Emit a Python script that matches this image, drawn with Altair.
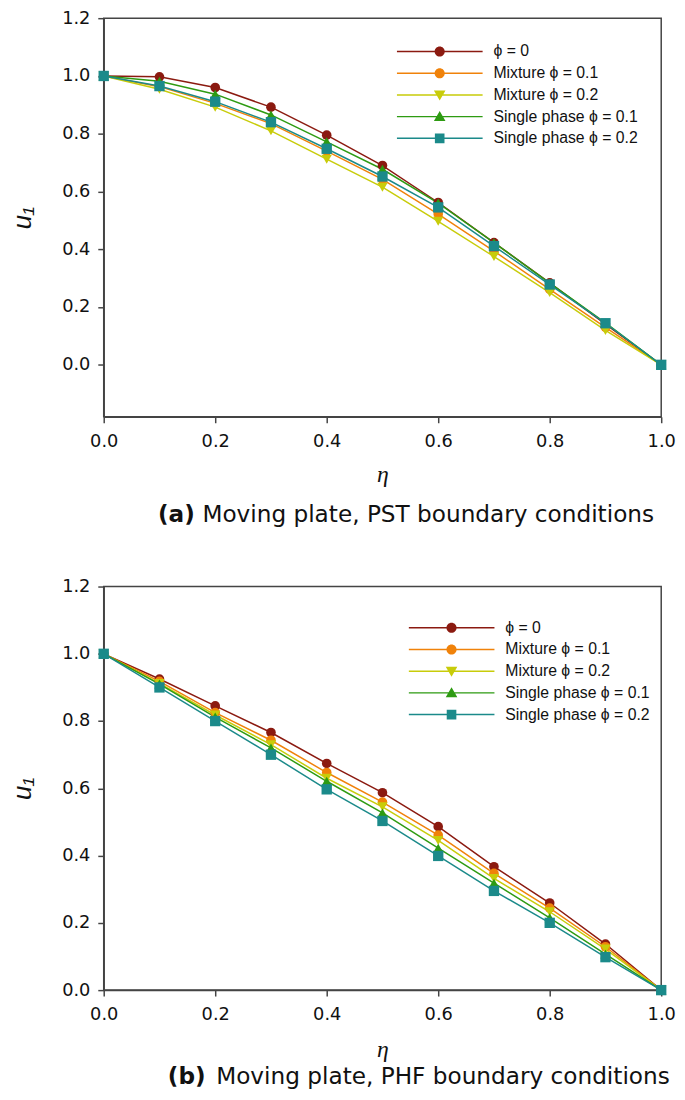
import altair as alt
import pandas as pd

# ---------------- data ----------------
ETA = [0.0, 0.1, 0.2, 0.3, 0.4, 0.5, 0.6, 0.7, 0.8, 0.9, 1.0]
SERIES = ["ϕ = 0", "Mixture ϕ = 0.1", "Mixture ϕ = 0.2",
          "Single phase ϕ = 0.1", "Single phase ϕ = 0.2"]
COLORS = ["#8B1A10", "#F0820A", "#C8CC0A", "#2E9B12", "#1B8A8A"]
SHAPES = ["circle", "circle", "triangle-down", "triangle-up", "square"]

# (a) PST boundary conditions
PST_PHI0 = [1.0, 0.997, 0.960, 0.892, 0.795, 0.690, 0.562, 0.423, 0.284, 0.141, 0.0]
PST_MIX01 = [1.0, 0.963, 0.905, 0.835, 0.740, 0.642, 0.522, 0.394, 0.261, 0.130, 0.0]
PST_MIX02 = [1.0, 0.954, 0.892, 0.810, 0.712, 0.615, 0.497, 0.375, 0.250, 0.119, 0.0]
PST_SP01 = [1.0, 0.982, 0.937, 0.865, 0.772, 0.677, 0.560, 0.423, 0.283, 0.145, 0.0]
PST_SP02 = [1.0, 0.965, 0.911, 0.840, 0.748, 0.652, 0.545, 0.411, 0.278, 0.144, 0.0]

# (b) PHF boundary conditions
PHF_PHI0 = [1.0, 0.925, 0.845, 0.766, 0.674, 0.587, 0.486, 0.367, 0.259, 0.137, 0.0]
PHF_MIX01 = [1.0, 0.918, 0.825, 0.743, 0.647, 0.559, 0.461, 0.347, 0.244, 0.129, 0.0]
PHF_MIX02 = [1.0, 0.912, 0.818, 0.730, 0.630, 0.545, 0.445, 0.332, 0.233, 0.122, 0.0]
PHF_SP01 = [1.0, 0.910, 0.812, 0.720, 0.621, 0.527, 0.422, 0.318, 0.215, 0.107, 0.0]
PHF_SP02 = [1.0, 0.900, 0.800, 0.700, 0.597, 0.503, 0.399, 0.295, 0.200, 0.098, 0.0]

X_TICKS = [0.0, 0.2, 0.4, 0.6, 0.8, 1.0]
Y_TICKS_A = [0.0, 0.2, 0.4, 0.6, 0.8, 1.0, 1.2]
Y_TICKS_B = [0.0, 0.2, 0.4, 0.6, 0.8, 1.0, 1.2]

# legend symbols: a thin line with the marker in the middle (unit-square paths)
LINE = "M-1,-0.017 H1 V0.017 H-1 Z "
CIRC = "M-0.118,0 A0.118,0.118 0 1,1 0.118,0 A0.118,0.118 0 1,1 -0.118,0 Z"
TDOWN = "M-0.135,-0.105 L0.135,-0.105 L0,0.128 Z"
TUP = "M0,-0.128 L0.135,0.105 L-0.135,0.105 Z"
SQR = "M-0.112,-0.112 H0.112 V0.112 H-0.112 Z"
LEG_PATHS = [LINE + CIRC, LINE + CIRC, LINE + TDOWN, LINE + TUP, LINE + SQR]

FONT = "Liberation Sans"
TICK_FONT = "DejaVu Sans"
W = 565


def long_df(cols):
    rows = []
    for s, vals in zip(SERIES, cols):
        for e, v in zip(ETA, vals):
            rows.append({"eta": e, "u": v, "series": s})
    return pd.DataFrame(rows)


def panel(df, ydom, yticks, height, leg_x, leg_y, letter, rest, cap_x, cap_rest_x,
          cap_y, title_pad_x):
    x = alt.X("eta:Q", scale=alt.Scale(domain=[0, 1], nice=False, zero=False),
              axis=alt.Axis(values=X_TICKS, format=".1f", title="η",
                            titleFont="Liberation Serif", titleFontStyle="italic",
                            titleFontWeight="normal", titleFontSize=24,
                            titlePadding=title_pad_x, labelPadding=10,
                            labelFlush=False))
    y = alt.Y("u:Q", scale=alt.Scale(domain=ydom, nice=False, zero=False),
              axis=alt.Axis(values=yticks, format=".1f", title="u₁",
                            titleFont=FONT, titleFontStyle="italic",
                            titleFontWeight="normal", titleFontSize=26,
                            titlePadding=27, labelPadding=8, labelFlush=False))
    layers = []
    for s, c in zip(SERIES, COLORS):
        b = alt.Chart(df).transform_filter(alt.datum.series == s)
        layers.append(b.mark_line(color=c, strokeWidth=1.5).encode(x=x, y=y))
    for s, c, sh in zip(SERIES, COLORS, SHAPES):
        b = alt.Chart(df).transform_filter(alt.datum.series == s)
        size = 95 if sh == "circle" else 110
        layers.append(b.mark_point(color=c, shape=sh, filled=True, opacity=1,
                                   size=size).encode(x=x, y=y))
    leg = alt.Legend(title=None, orient="none", legendX=leg_x, legendY=leg_y,
                     symbolSize=7569, labelFont=FONT, labelFontSize=16,
                     labelColor="#111", labelOffset=11, clipHeight=21.5,
                     rowPadding=0, padding=0, symbolStrokeWidth=0)
    legend_layer = alt.Chart(df).transform_filter("false").mark_point(
        filled=True, opacity=1, size=7569).encode(
        x=x, y=y,
        color=alt.Color("series:N", scale=alt.Scale(domain=SERIES, range=COLORS),
                        legend=leg),
        shape=alt.Shape("series:N", scale=alt.Scale(domain=SERIES, range=LEG_PATHS),
                        legend=leg),
    )
    layers.append(legend_layer)
    cap = pd.DataFrame({"t": [letter], "r": [rest]})
    layers.append(alt.Chart(cap).mark_text(
        align="left", baseline="middle", font=TICK_FONT, fontSize=23.5,
        fontWeight="bold", color="#111").encode(
        text="t:N", x=alt.value(cap_x), y=alt.value(cap_y)))
    layers.append(alt.Chart(cap).mark_text(
        align="left", baseline="middle", font=TICK_FONT, fontSize=23.5,
        fontWeight="normal", color="#111").encode(
        text="r:N", x=alt.value(cap_rest_x), y=alt.value(cap_y)))
    return alt.layer(*layers).properties(width=W, height=height)


top = panel(long_df([PST_PHI0, PST_MIX01, PST_MIX02, PST_SP01, PST_SP02]),
            [-0.18, 1.2], Y_TICKS_A, 404, 297, 23, "(a)",
            "Moving plate, PST boundary conditions", 55, 100, 504, 13)
bottom = panel(long_df([PHF_PHI0, PHF_MIX01, PHF_MIX02, PHF_SP01, PHF_SP02]),
               [0, 1.2], Y_TICKS_B, 409, 309, 31, "(b)",
               "Moving plate, PHF boundary conditions", 65, 114, 497, 14)

chart = alt.vconcat(top, bottom, spacing=49).resolve_scale(
    color="independent", shape="independent"
).resolve_legend(
    color="independent", shape="independent"
).properties(
    padding={"top": -7, "left": 0, "right": 0, "bottom": 0}, background="white"
).configure_view(
    stroke="#444", strokeWidth=1.5
).configure_axis(
    grid=False, domainColor="#444", domainWidth=1.5, tickColor="#444",
    tickWidth=1.5, tickSize=6, labelColor="#111", labelFont=TICK_FONT,
    labelFontSize=18, titleColor="#111"
)

chart.save("out.html", embed_options={"renderer": "svg", "actions": False})
